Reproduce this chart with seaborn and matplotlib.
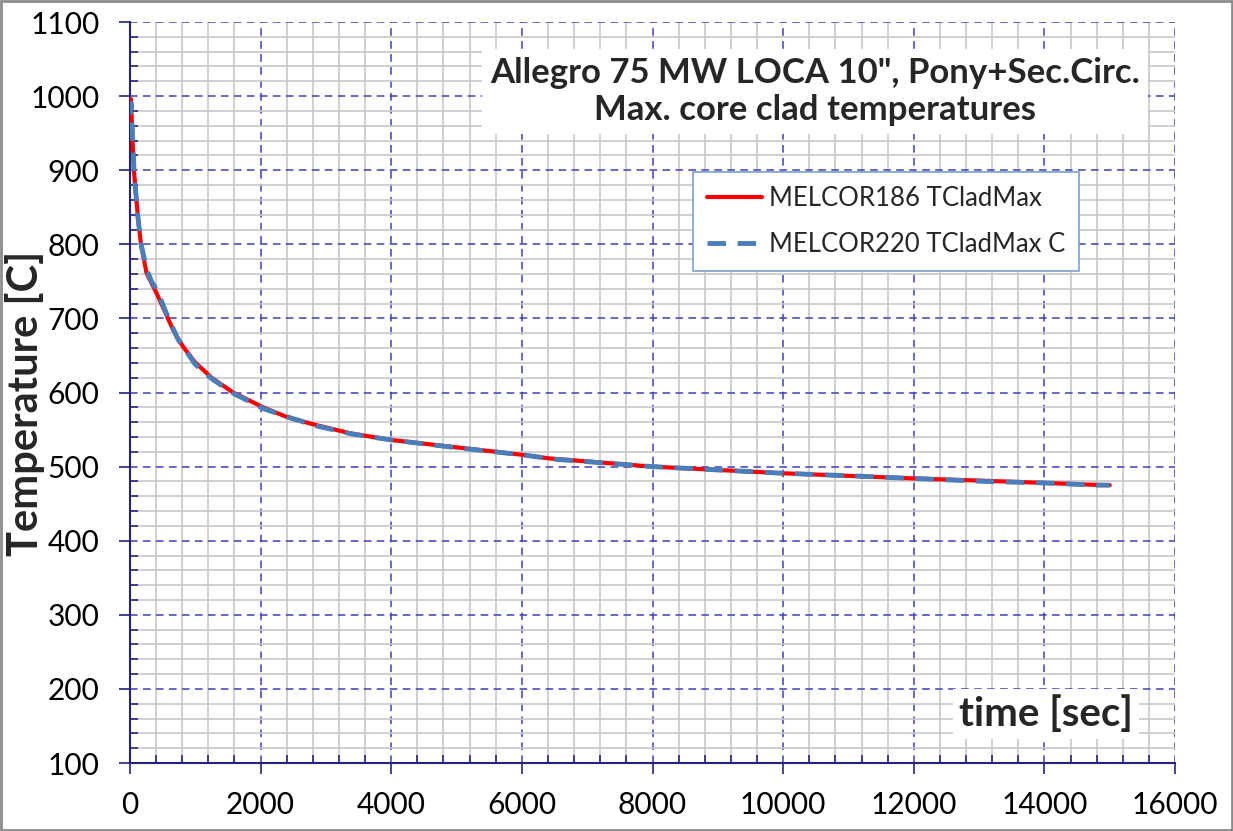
import matplotlib
matplotlib.use("Agg")
import matplotlib.pyplot as plt
import seaborn as sns
import pandas as pd
from matplotlib.ticker import MultipleLocator
from matplotlib.patches import Rectangle

# ---- data ----
t_m186 = [0, 15, 35, 60, 117, 168, 255, 408, 582, 663, 735, 812, 995, 1250, 1580,
          2040, 2400, 2810, 3370, 4000, 4900, 6000, 6430, 8000, 10000, 11170,
          12000, 13060, 14000, 14750, 15000]
T_m186 = [985, 996, 950, 900, 842, 800, 761, 734, 700, 684, 673, 662, 641, 620, 600,
          580, 567, 557, 545, 536, 527, 516, 511, 500, 491, 487,
          484, 481, 478, 475.5, 475]

t_m220 = [0, 20, 40, 65, 120, 170, 260, 330, 420, 590, 740, 1000, 1260, 1600,
          2050, 2450, 2850, 3400, 4000, 4950, 6000, 6500, 8000, 10000, 11200,
          12000, 13100, 14000, 14800, 15000]
T_m220 = [975, 990, 945, 895, 838, 800, 765, 750, 737, 700, 671, 638, 618, 598,
          578, 566, 555, 544, 536, 526, 516, 510, 500, 491, 487,
          484, 480, 478, 475, 475]

series_names = ["MELCOR186 TCladMax", "MELCOR220 TCladMax C"]
x_ticks = list(range(0, 16001, 2000))
y_ticks = list(range(100, 1101, 100))
title_lines = ["Allegro 75 MW LOCA 10\", Pony+Sec.Circ.", "Max. core clad temperatures"]

df1 = pd.DataFrame({"t": t_m186, "T": T_m186})
df2 = pd.DataFrame({"t": t_m220, "T": T_m220})

sns.set_style("white")
plt.rcParams['font.family'] = ['Lato', 'DejaVu Sans']

fig = plt.figure(figsize=(12.33, 8.31), dpi=100)
ax = fig.add_axes([0.1054, 0.0818, 0.8476, 0.8917])

navy = '#23237f'

sns.lineplot(data=df1, x="t", y="T", ax=ax, color='#ff0000', linewidth=3.0,
             label=series_names[0], sort=False, estimator=None, zorder=3)
sns.lineplot(data=df2, x="t", y="T", ax=ax, color='#4a7ebb', linewidth=3.5,
             label=series_names[1], sort=False, estimator=None, zorder=4,
             dashes=False)
ax.lines[1].set_dashes((3.8, 2.4))

ax.set_xlim(0, 16000)
ax.set_ylim(100, 1100)
ax.set_xticks(x_ticks)
ax.set_yticks(y_ticks)
ax.xaxis.set_minor_locator(MultipleLocator(400))
ax.yaxis.set_minor_locator(MultipleLocator(20))

ax.grid(which='minor', color='#c8c8c8', linewidth=1.2, linestyle='-', zorder=0)
ax.grid(which='major', color='#3f3fbf', linewidth=1.1, linestyle=(0, (5, 3.5)), zorder=1)
ax.set_axisbelow(True)

for s in ['top', 'right']:
    ax.spines[s].set_visible(False)
for s in ['left', 'bottom']:
    ax.spines[s].set_color(navy)
    ax.spines[s].set_linewidth(1.5)

ax.tick_params(which='major', direction='out', length=8, width=1.2, color=navy,
               labelsize=21.5, labelcolor='black')
ax.tick_params(axis='y', which='major', pad=14)
ax.tick_params(axis='x', which='major', pad=12)
ax.tick_params(which='minor', direction='in', length=6, width=1.2, color=navy)
ax.tick_params(left=True, bottom=True, which='both')

ax.set_xlabel("")
ax.set_ylabel("")

# title box
ax.text((815 - 130) / 1045, (763 - 91.5) / 741, "\n".join(title_lines),
        transform=ax.transAxes, ha='center', va='center', fontsize=25,
        fontweight='bold', linespacing=1.2,
        bbox=dict(facecolor='white', edgecolor='none', pad=6), zorder=5)

# x label inside plot
ax.text((1046 - 130) / 1045, (763 - 714) / 741, "time [sec]", transform=ax.transAxes,
        ha='center', va='center', fontsize=29, fontweight='bold',
        bbox=dict(facecolor='white', edgecolor='none', pad=4), zorder=5)

# y label
fig.text(25 / 1233, 1 - 403 / 831, "Temperature [C]", rotation=90, ha='center',
         va='center', fontsize=30, fontweight='bold')

leg = ax.legend(loc='upper left', bbox_to_anchor=((693 - 130) / 1045, (763 - 172) / 741),
                borderaxespad=0, frameon=True, fancybox=False, edgecolor='#7f9fcf',
                fontsize=18.5, handlelength=2.15, labelspacing=0.8, borderpad=0.55,
                handletextpad=0.25, framealpha=1)
leg.get_frame().set_linewidth(1.2)
leg.set_zorder(6)

fig.patches.append(Rectangle((0.001, 0.001), 0.998, 0.998, transform=fig.transFigure,
                             fill=False, edgecolor='#8c8c8c', linewidth=2))

fig.savefig("out.png", dpi=100)
